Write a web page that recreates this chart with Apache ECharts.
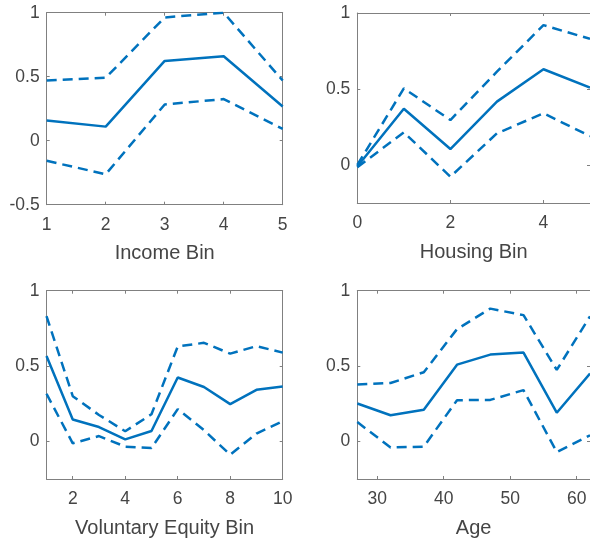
<!DOCTYPE html>
<html>
<head>
<meta charset="utf-8">
<script src="https://cdn.jsdelivr.net/npm/echarts@6/dist/echarts.min.js"></script>
<style>
html,body{margin:0;padding:0;background:#fff;}
#chart{width:590px;height:539px;}
</style>
</head>
<body>
<div id="chart"></div>
<script>
// ---- Data ----
const incomeX = [1, 2, 3, 4, 5];
const incomeEst = [0.157, 0.11, 0.623, 0.66, 0.267];
const incomeUpper = [0.471, 0.492, 0.963, 1.0, 0.47];
const incomeLower = [-0.157, -0.262, 0.283, 0.325, 0.092];

const housingX = [0, 1, 2, 3, 4, 5];
const housingEst = [-0.01, 0.37, 0.105, 0.417, 0.63, 0.51];
const housingUpper = [0.0, 0.504, 0.296, 0.614, 0.92, 0.83];
const housingLower = [-0.015, 0.215, -0.077, 0.208, 0.34, 0.19];

const equityX = [1, 2, 3, 4, 5, 6, 7, 8, 9, 10];
const equityEst = [0.567, 0.145, 0.095, 0.013, 0.069, 0.424, 0.361, 0.247, 0.342, 0.364];
const equityUpper = [0.831, 0.30, 0.175, 0.067, 0.18, 0.63, 0.654, 0.582, 0.632, 0.589];
const equityLower = [0.316, -0.013, 0.035, -0.035, -0.045, 0.214, 0.074, -0.089, 0.052, 0.134];

const ageX = [27, 32, 37, 42, 47, 52, 57, 62];
const ageEst = [0.251, 0.173, 0.21, 0.509, 0.576, 0.589, 0.19, 0.45];
const ageUpper = [0.377, 0.387, 0.459, 0.745, 0.881, 0.838, 0.474, 0.83];
const ageLower = [0.128, -0.041, -0.035, 0.273, 0.275, 0.34, -0.071, 0.04];

// Axis tick labels
const incomeXTicks = [1, 2, 3, 4, 5];
const incomeYTicks = [-0.5, 0, 0.5, 1];
const housingXTicks = [0, 2, 4];
const housingYTicks = [0, 0.5, 1];
const equityXTicks = [2, 4, 6, 8, 10];
const equityYTicks = [0, 0.5, 1];
const ageXTicks = [30, 40, 50, 60];
const ageYTicks = [0, 0.5, 1];

const xTitles = ['Income Bin', 'Housing Bin', 'Voluntary Equity Bin', 'Age'];

// ---- Styling ----
const LINE = '#0072BD';
const AX = '#808080';
const TXT = '#454545';
const FONT = 'Liberation Sans';

const panels = [
  {x: incomeX, est: incomeEst, up: incomeUpper, lo: incomeLower, xmin: 1, xmax: 5, ymin: -0.5, ymax: 1, xt: incomeXTicks, yt: incomeYTicks,
   grid: {left: 46.7, top: 12.7, width: 236, height: 192}},
  {x: housingX, est: housingEst, up: housingUpper, lo: housingLower, xmin: 0, xmax: 5, ymin: -0.25, ymax: 1, xt: housingXTicks, yt: housingYTicks,
   grid: {left: 357.3, top: 13, width: 236, height: 190}},
  {x: equityX, est: equityEst, up: equityUpper, lo: equityLower, xmin: 1, xmax: 10, ymin: -0.25, ymax: 1, xt: equityXTicks, yt: equityYTicks,
   grid: {left: 46.5, top: 290.7, width: 236.2, height: 192.3}},
  {x: ageX, est: ageEst, up: ageUpper, lo: ageLower, xmin: 27, xmax: 62, ymin: -0.25, ymax: 1, xt: ageXTicks, yt: ageYTicks,
   grid: {left: 357.3, top: 290.7, width: 236, height: 192.3}}
];

const grids = [], xAxes = [], yAxes = [], series = [];
panels.forEach((p, i) => {
  grids.push(Object.assign({containLabel: false}, p.grid));
  const lineStyle = {color: AX, width: 1};
  // bottom x
  xAxes.push({
    type: 'value', gridIndex: i, position: 'bottom', min: p.xmin, max: p.xmax,
    name: xTitles[i], nameLocation: 'middle', nameGap: 39,
    nameTextStyle: {color: TXT, fontSize: 20, fontFamily: FONT},
    axisLine: {show: true, onZero: false, lineStyle}, splitLine: {show: false},
    axisTick: {show: true, inside: true, length: 3, lineStyle, customValues: p.xt},
    axisLabel: {show: true, color: TXT, fontSize: 17.5, fontFamily: FONT, margin: 11, customValues: p.xt, showMinLabel: true, showMaxLabel: true}
  });
  // top x (box)
  xAxes.push({
    type: 'value', gridIndex: i, position: 'top', min: p.xmin, max: p.xmax,
    axisLine: {show: true, onZero: false, lineStyle}, splitLine: {show: false},
    axisTick: {show: true, inside: true, length: 3, lineStyle, customValues: p.xt},
    axisLabel: {show: false}
  });
  // left y
  yAxes.push({
    type: 'value', gridIndex: i, position: 'left', min: p.ymin, max: p.ymax,
    axisLine: {show: true, onZero: false, lineStyle}, splitLine: {show: false},
    axisTick: {show: true, inside: true, length: 3, lineStyle, customValues: p.yt},
    axisLabel: {show: true, color: TXT, fontSize: 17.5, fontFamily: FONT, margin: 7, customValues: p.yt, showMinLabel: true, showMaxLabel: true}
  });
  // right y (box)
  yAxes.push({
    type: 'value', gridIndex: i, position: 'right', min: p.ymin, max: p.ymax,
    axisLine: {show: true, onZero: false, lineStyle}, splitLine: {show: false},
    axisTick: {show: true, inside: true, length: 3, lineStyle, customValues: p.yt},
    axisLabel: {show: false}
  });
  const xi = i * 2, yi = i * 2;
  const mk = (vals, type, w) => ({
    type: 'line', xAxisIndex: xi, yAxisIndex: yi,
    data: p.x.map((xv, k) => [xv, vals[k]]),
    symbol: 'none', silent: true, clip: true,
    lineStyle: {color: LINE, width: w, type: type}
  });
  series.push(mk(p.up, [10, 6], 2.5));
  series.push(mk(p.lo, [10, 6], 2.5));
  series.push(mk(p.est, 'solid', 2.5));
});

const chart = echarts.init(document.getElementById('chart'), null, {renderer: 'canvas'});
chart.setOption({
  animation: false,
  backgroundColor: '#ffffff',
  grid: grids,
  xAxis: xAxes,
  yAxis: yAxes,
  series: series
});
</script>
</body>
</html>
